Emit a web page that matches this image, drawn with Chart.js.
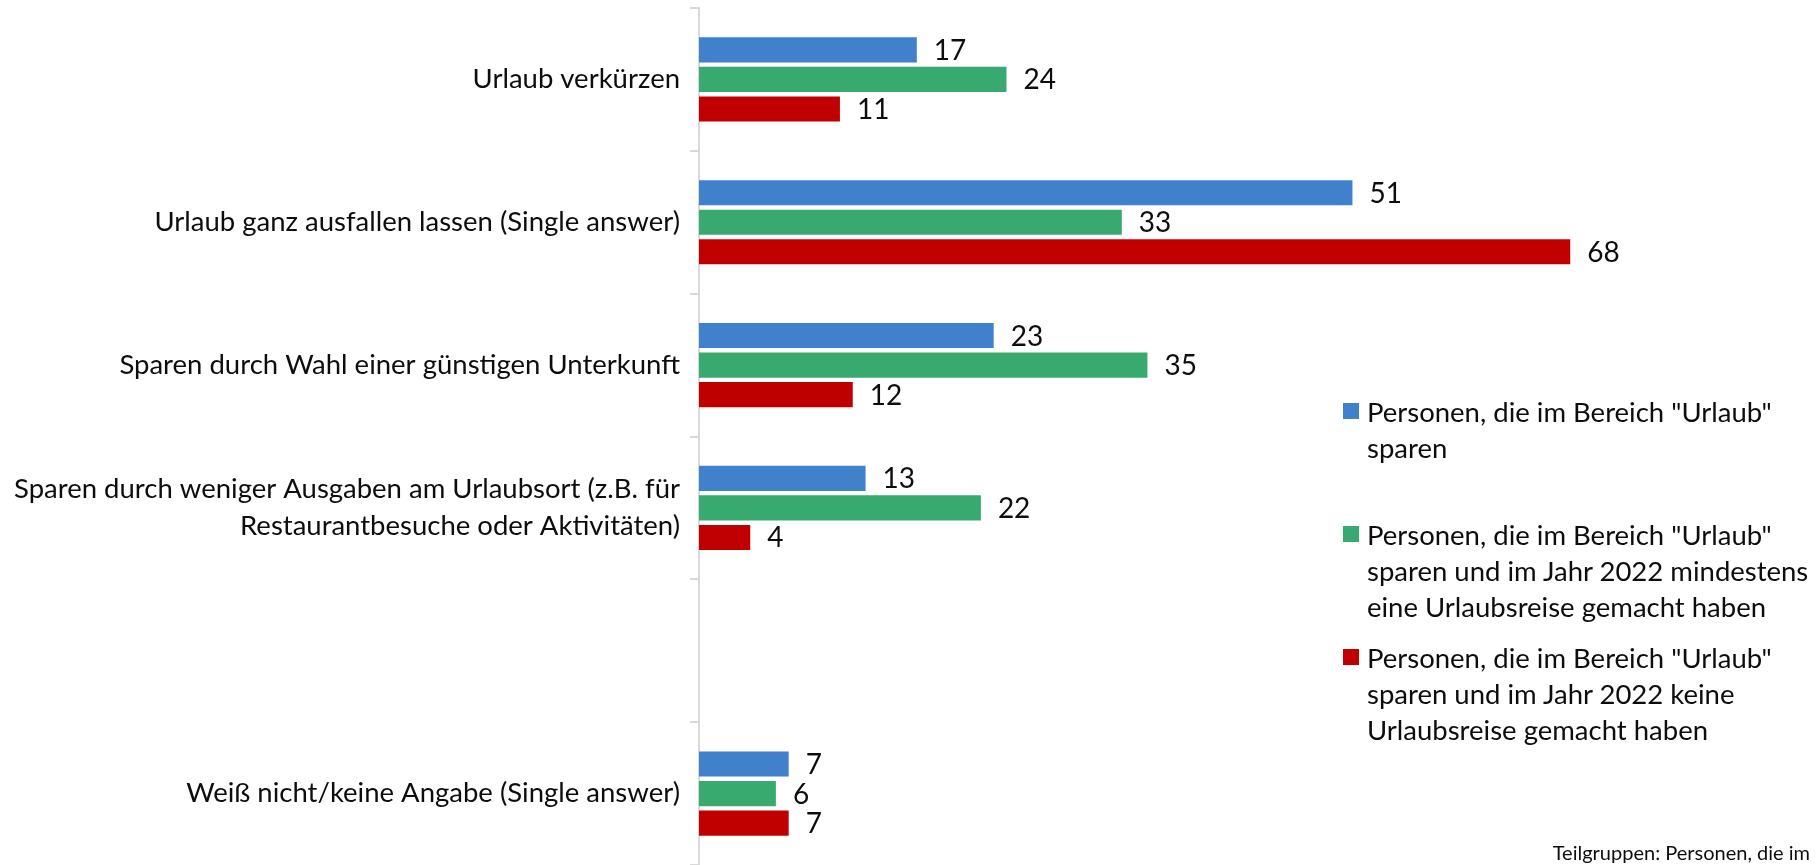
<!DOCTYPE html>
<html lang="de">
<head>
<meta charset="utf-8">
<title>Sparen im Bereich Urlaub</title>
<script src="https://cdn.jsdelivr.net/npm/chart.js@4.4.0/dist/chart.umd.min.js"></script>
<style>
  html, body { margin: 0; padding: 0; background: #fff; overflow: hidden; }
  #wrap { position: relative; width: 1816px; height: 865px; font-family: Lato, "Open Sans", sans-serif; color: #0d0d0d; }
  #chart { position: absolute; left: 0; top: 0; }
  #legend { position: absolute; left: 1343px; top: 394px; }
  .item { position: relative; height: 123px; padding-left: 24px; font-size: 27.5px; line-height: 36px; white-space: nowrap; }
  .item .box { position: absolute; left: 0; top: 9px; width: 16px; height: 16px; }
  #note { position: absolute; right: 6px; bottom: 1px; font-size: 20px; }
</style>
</head>
<body>
<div id="wrap">
  <canvas id="chart" width="1816" height="865"></canvas>
  <div id="legend"></div>
  <div id="note">Teilgruppen: Personen, die im</div>
</div>
<script>
const categories = [
  "Urlaub verkürzen",
  "Urlaub ganz ausfallen lassen (Single answer)",
  "Sparen durch Wahl einer günstigen Unterkunft",
  ["Sparen durch weniger Ausgaben am Urlaubsort (z.B. für", "Restaurantbesuche oder Aktivitäten)"],
  "",
  "Weiß nicht/keine Angabe (Single answer)",
];

const seriesNames = [
  ['Personen, die im Bereich "Urlaub"', "sparen"],
  ['Personen, die im Bereich "Urlaub"', "sparen und im Jahr 2022 mindestens", "eine Urlaubsreise gemacht haben"],
  ['Personen, die im Bereich "Urlaub"', "sparen und im Jahr 2022 keine", "Urlaubsreise gemacht haben"],
];

// Werte in Prozent
const sparenUrlaub = [17, 51, 23, 13, null, 7];
const sparenMitReise = [24, 33, 35, 22, null, 6];
const sparenOhneReise = [11, 68, 12, 4, null, 7];

const seriesColors = ["#4180cb", "#38a96f", "#c00000"];
const textColor = "#0d0d0d";

const valueLabels = {
  id: "valueLabels",
  afterDatasetsDraw(chart) {
    const ctx = chart.ctx;
    ctx.save();
    ctx.font = "28px Lato";
    ctx.fillStyle = textColor;
    ctx.textAlign = "left";
    ctx.textBaseline = "middle";
    chart.data.datasets.forEach((ds, i) => {
      chart.getDatasetMeta(i).data.forEach((bar, j) => {
        const v = ds.data[j];
        if (v == null) return;
        ctx.fillText(String(v), bar.x + 17, bar.y + 1);
      });
    });
    ctx.restore();
  },
};

const chart = new Chart(document.getElementById("chart"), {
  type: "bar",
  data: {
    labels: categories,
    datasets: [sparenUrlaub, sparenMitReise, sparenOhneReise].map((data, i) => ({
      label: seriesNames[i].join(" "),
      data,
      backgroundColor: seriesColors[i],
      categoryPercentage: 0.62,
      barPercentage: 0.85,
    })),
  },
  options: {
    indexAxis: "y",
    responsive: false,
    animation: false,
    layout: { padding: { top: 8, right: 92, bottom: 0, left: 0 } },
    plugins: { legend: { display: false }, tooltip: { enabled: false } },
    scales: {
      x: { display: false, min: 0, max: 80 },
      y: {
        afterFit(scale) {
          scale.width = 699;
          scale.paddingTop = 0;
          scale.paddingBottom = 0;
        },
        border: { display: true, color: "#d9d9d9", width: 2 },
        grid: { drawOnChartArea: false, drawTicks: true, tickLength: 9, color: "#d9d9d9", lineWidth: 2, offset: true },
        ticks: {
          color: textColor,
          autoSkip: false,
          padding: 10,
          font: { family: "Lato", size: 27.5, lineHeight: 1.35 },
        },
      },
    },
  },
  plugins: [valueLabels],
});

// Legende
const legend = document.getElementById("legend");
seriesNames.forEach((lines, i) => {
  const item = document.createElement("div");
  item.className = "item";
  const box = document.createElement("span");
  box.className = "box";
  box.style.background = seriesColors[i];
  item.appendChild(box);
  lines.forEach((line, k) => {
    if (k > 0) item.appendChild(document.createElement("br"));
    item.appendChild(document.createTextNode(line));
  });
  legend.appendChild(item);
});
</script>
</body>
</html>
